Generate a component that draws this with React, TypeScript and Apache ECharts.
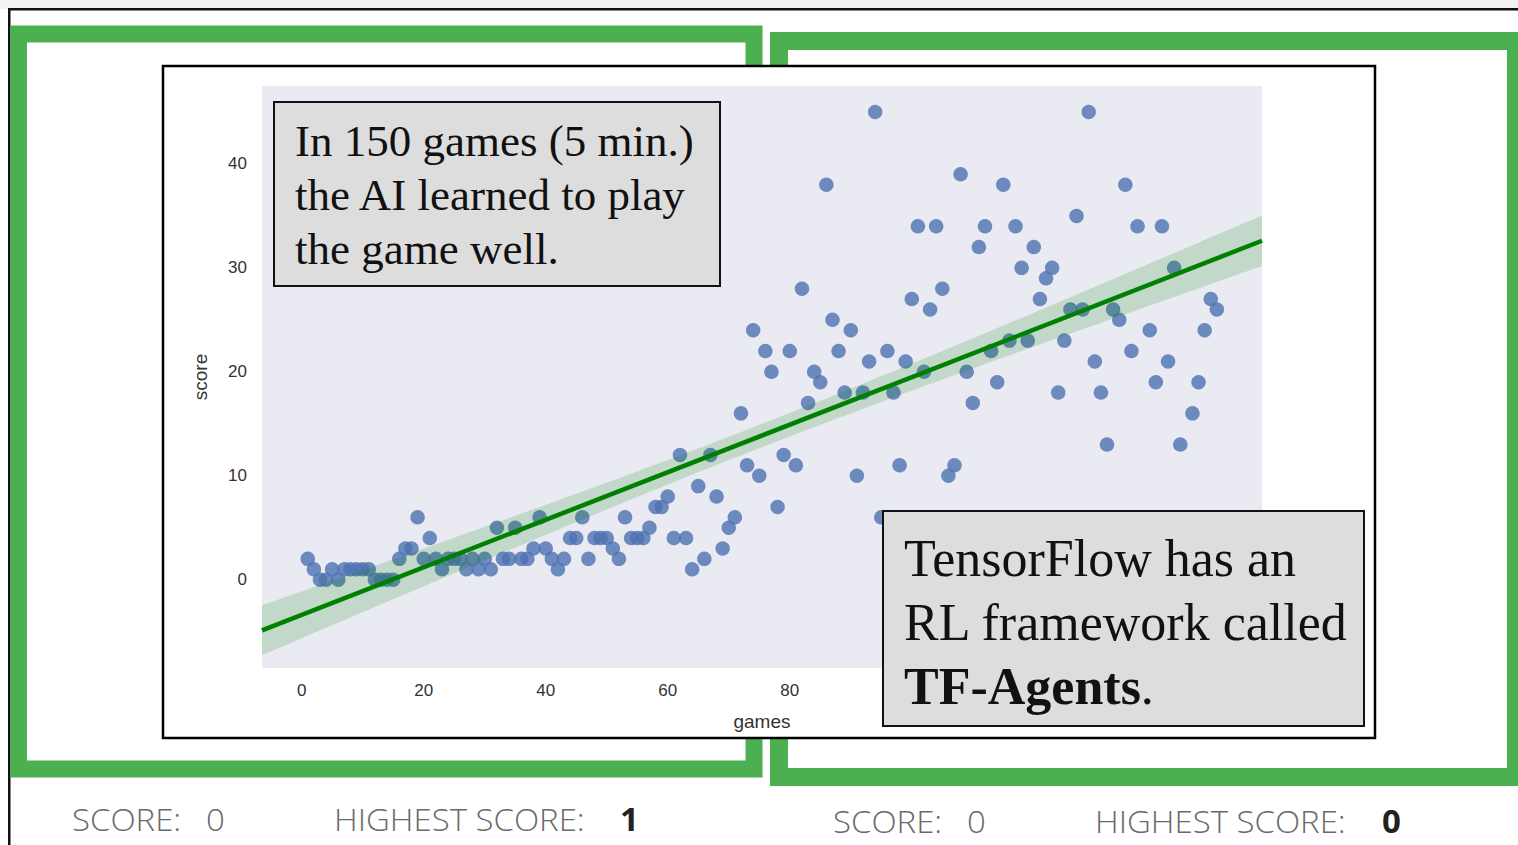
import React, { useEffect, useRef } from "react";
import * as echarts from "echarts";

const games = [
  1, 2, 3, 4, 5, 6, 7, 8, 9, 10, 11, 12, 13, 14, 15, 16, 17, 18, 19, 20,
  21, 22, 23, 24, 25, 26, 27, 28, 29, 30, 31, 32, 33, 34, 35, 36, 37, 38, 39, 40,
  41, 42, 43, 44, 45, 46, 47, 48, 49, 50, 51, 52, 53, 54, 55, 56, 57, 58, 59, 60,
  61, 62, 63, 64, 65, 66, 67, 68, 69, 70, 71, 72, 73, 74, 75, 76, 77, 78, 79, 80,
  81, 82, 83, 84, 85, 86, 87, 88, 89, 90, 91, 92, 93, 94, 95, 96, 97, 98, 99, 100,
  101, 102, 103, 104, 105, 106, 107, 108, 109, 110, 111, 112, 113, 114, 115, 116, 117, 118, 119, 120,
  121, 122, 123, 124, 125, 126, 127, 128, 129, 130, 131, 132, 133, 134, 135, 136, 137, 139, 140,
  141, 142, 143, 144, 146, 147, 148, 149, 150,
];
const scores = [
  2, 1, 0, 0, 1, 0, 1, 1, 1, 1, 1, 0, 0, 0, 0, 2, 3, 3, 6, 2,
  4, 2, 1, 2, 2, 2, 1, 2, 1, 2, 1, 5, 2, 2, 5, 2, 2, 3, 6, 3,
  2, 1, 2, 4, 4, 6, 2, 4, 4, 4, 3, 2, 6, 4, 4, 4, 5, 7, 7, 8,
  4, 12, 4, 1, 9, 2, 12, 8, 3, 5, 6, 16, 11, 24, 10, 22, 20, 7, 12, 22,
  11, 28, 17, 20, 19, 38, 25, 22, 18, 24, 10, 18, 21, 45, 6, 22, 18, 11, 21, 27,
  34, 20, 26, 34, 28, 10, 11, 39, 20, 17, 32, 34, 22, 19, 38, 23, 34, 30, 23, 32,
  27, 29, 30, 18, 23, 26, 35, 26, 45, 21, 18, 13, 26, 25, 38, 22, 34, 24, 19,
  34, 21, 30, 13, 16, 19, 24, 27, 26,
];

const xGridTicks = [0, 20, 40, 60, 80, 100, 120, 140];
const xLabelTicks = [0, 20, 40, 60, 80];
const yTicks = [0, 10, 20, 30, 40];
const xRange = [-6.5, 157.4];
const yRange = [-8.5, 47.5];

function regression() {
  const n = games.length;
  const mx = games.reduce((a, b) => a + b, 0) / n;
  const my = scores.reduce((a, b) => a + b, 0) / n;
  let sxx = 0;
  let sxy = 0;
  for (let i = 0; i < n; i++) {
    sxx += (games[i] - mx) ** 2;
    sxy += (games[i] - mx) * (scores[i] - my);
  }
  const b = sxy / sxx;
  const a = my - b * mx;
  let sse = 0;
  for (let i = 0; i < n; i++) sse += (scores[i] - a - b * games[i]) ** 2;
  const s = Math.sqrt(sse / (n - 2));
  const t = 1.976;
  const steps = 100;
  const band: number[][] = [];
  for (let k = 0; k <= steps; k++) {
    const x = xRange[0] + ((xRange[1] - xRange[0]) * k) / steps;
    const yh = a + b * x;
    const se = s * Math.sqrt(1 / n + (x - mx) ** 2 / sxx);
    band.push([x, yh - t * se, yh + t * se]);
  }
  const line = [
    [xRange[0], a + b * xRange[0]],
    [xRange[1], a + b * xRange[1]],
  ];
  return { band, line };
}

export default function App() {
  const ref = useRef<HTMLDivElement>(null);
  useEffect(() => {
    if (!ref.current) return;
    const chart = echarts.init(ref.current, undefined, { renderer: "svg" });
    const reg = regression();
    const sans = "'Liberation Sans', Arial, sans-serif";
    const serif = "'Liberation Serif', 'Times New Roman', serif";
    const scoreFont = "'Open Sans', 'Liberation Sans', sans-serif";
    const bottomText = (x: number, y: number, text: string, bold: boolean) => ({
      type: "text",
      x,
      y,
      scaleX: 1.03,
      z: 50,
      style: {
        text,
        fontSize: 32,
        lineHeight: 32,
        fontWeight: bold ? "bold" : 300,
        fontFamily: scoreFont,
        fill: bold ? "#222" : "#6a6a6a",
        verticalAlign: "middle",
        align: "left",
      },
    });
    const boxLine = (x: number, y: number, text: string, size: number) => ({
      type: "text",
      x,
      y,
      z: 101,
      style: {
        text,
        fontSize: size,
        fontFamily: serif,
        fill: "#111",
        verticalAlign: "middle",
        align: "left",
        rich: {
          b: { fontSize: size, fontFamily: serif, fontWeight: "bold", fill: "#111" },
        },
      },
    });
    chart.setOption({
      animation: false,
      backgroundColor: "#ffffff",
      grid: {
        left: 262,
        top: 86,
        width: 1000,
        height: 582,
        show: true,
        backgroundColor: "#EAEAF2",
        borderWidth: 0,
        z: 1,
      },
      xAxis: {
        type: "value",
        min: xRange[0],
        max: xRange[1],
        name: "games",
        nameLocation: "middle",
        nameGap: 44,
        nameTextStyle: { fontSize: 19, color: "#333", fontFamily: sans },
        axisLine: { show: false },
        axisTick: { show: false, customValues: xGridTicks },
        axisLabel: { customValues: xLabelTicks, fontSize: 17, color: "#333", fontFamily: sans, margin: 14 },
        splitLine: { show: true, lineStyle: { color: "#ffffff", width: 1.5 } },
      },
      yAxis: {
        type: "value",
        min: yRange[0],
        max: yRange[1],
        name: "score",
        nameLocation: "middle",
        nameGap: 52,
        nameTextStyle: { fontSize: 19, color: "#333", fontFamily: sans },
        axisLine: { show: false },
        axisTick: { show: false, customValues: yTicks },
        axisLabel: { customValues: yTicks, fontSize: 17, color: "#333", fontFamily: sans, margin: 15 },
        splitLine: { show: true, lineStyle: { color: "#ffffff", width: 1.5 } },
      },
      series: [
        {
          type: "scatter",
          data: games.map((g, i) => [g, scores[i]]),
          symbolSize: 14.5,
          itemStyle: { color: "#4C72B0", opacity: 0.8 },
          z: 3,
        },
        {
          type: "custom",
          data: reg.band,
          encode: { x: 0, y: [1, 2] },
          clip: true,
          z: 4,
          renderItem: (params: any, api: any) => {
            if (params.dataIndex !== 0) return { type: "group", children: [] };
            const pts: number[][] = [];
            for (const d of reg.band) pts.push(api.coord([d[0], d[2]]));
            for (let i = reg.band.length - 1; i >= 0; i--) pts.push(api.coord([reg.band[i][0], reg.band[i][1]]));
            return {
              type: "polygon",
              shape: { points: pts },
              style: { fill: "rgba(0,128,0,0.17)", stroke: "none" },
            };
          },
        },
        {
          type: "line",
          data: reg.line,
          showSymbol: false,
          lineStyle: { color: "#008000", width: 4.5 },
          z: 5,
        },
      ],
      graphic: [
        { type: "rect", z: -20, shape: { x: 0, y: 0, width: 1518, height: 9 }, style: { fill: "#F2F3F7" } },
        { type: "rect", z: -19, shape: { x: 8, y: 8, width: 1510, height: 2.5 }, style: { fill: "#111" } },
        { type: "rect", z: -19, shape: { x: 8, y: 8, width: 2.5, height: 837 }, style: { fill: "#111" } },
        {
          type: "rect",
          z: -18,
          shape: { x: 18.5, y: 34, width: 735.5, height: 735 },
          style: { fill: "none", stroke: "#4CAF50", lineWidth: 17 },
        },
        {
          type: "rect",
          z: -18,
          shape: { x: 779, y: 41, width: 737, height: 736 },
          style: { fill: "none", stroke: "#4CAF50", lineWidth: 18 },
        },
        {
          type: "rect",
          z: -10,
          shape: { x: 163, y: 66, width: 1212, height: 672 },
          style: { fill: "#ffffff", stroke: "#000", lineWidth: 2.5 },
        },
        {
          type: "rect",
          z: 100,
          shape: { x: 274, y: 102, width: 446, height: 184 },
          style: { fill: "#DDDDDD", stroke: "#111", lineWidth: 2 },
        },
        boxLine(295, 141, "In 150 games (5 min.)", 45),
        boxLine(295, 195, "the AI learned to play", 45),
        boxLine(295, 249, "the game well.", 45),
        {
          type: "rect",
          z: 100,
          shape: { x: 883, y: 511, width: 481, height: 215 },
          style: { fill: "#DDDDDD", stroke: "#111", lineWidth: 2 },
        },
        boxLine(904, 558, "TensorFlow has an", 52),
        boxLine(904, 622, "RL framework called", 52),
        boxLine(904, 686, "{b|TF-Agents}.", 52),
        bottomText(72, 819, "SCORE:", false),
        bottomText(206, 819, "0", false),
        bottomText(334, 819, "HIGHEST SCORE:", false),
        bottomText(620, 819, "1", true),
        bottomText(833, 821, "SCORE:", false),
        bottomText(967, 821, "0", false),
        bottomText(1095, 821, "HIGHEST SCORE:", false),
        bottomText(1382, 821, "0", true),
      ],
    });
    return () => chart.dispose();
  }, []);
  return (
    <div
      ref={ref}
      style={{ position: "fixed", left: 0, top: 0, width: 1518, height: 845 }}
    />
  );
}
